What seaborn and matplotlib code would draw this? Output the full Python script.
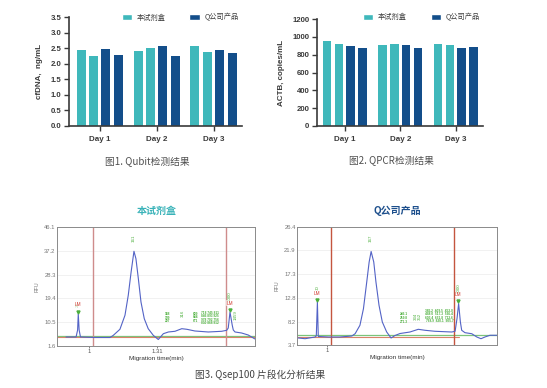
import numpy as np
import pandas as pd
import matplotlib
matplotlib.use("Agg")
import matplotlib.pyplot as plt
from matplotlib.patches import Patch
import seaborn as sns

# -----------------------------
# Step 1 – Chart values
# -----------------------------
days = ["Day 1", "Day 2", "Day 3"]
groups = ["本试剂盒", "Q公司产品"]
reps = ["本试剂盒-1", "本试剂盒-2", "Q公司产品-1", "Q公司产品-2"]

# Qubit cfDNA (ng/mL), two replicates per day
qubit_kit = [[2.43, 2.25], [2.42, 2.52], [2.56, 2.37]]
qubit_q = [[2.46, 2.27], [2.58, 2.25], [2.43, 2.33]]

# QPCR ACTB (copies/mL)
qpcr_kit = [[950, 925], [905, 925], [925, 905]]
qpcr_q = [[895, 870], [910, 870], [880, 890]]

# Qsep100 traces: migration time (min) and RFU
kit_time = [0.895, 0.941, 0.948, 0.951, 0.955, 0.961, 1.027, 1.096, 1.111, 1.141,
            1.164, 1.179, 1.192, 1.205, 1.214, 1.225, 1.237, 1.252, 1.270, 1.293,
            1.316, 1.339, 1.362, 1.392, 1.423, 1.446, 1.483, 1.544, 1.605, 1.628,
            1.635, 1.643, 1.653, 1.658, 1.666, 1.696, 1.726, 1.757]
kit_rfu = [4.97, 4.97, 7.58, 13.6, 7.58, 4.97, 4.78, 4.78, 5.60, 7.85,
           13.08, 20.56, 29.28, 37.02, 34.25, 26.77, 18.06, 11.81, 8.07, 5.60,
           4.03, 6.20, 6.84, 7.10, 8.07, 7.85, 7.21, 6.84, 7.10, 7.47,
           8.33, 14.3, 9.45, 7.58, 6.84, 6.46, 5.71, 4.22]

q_time = [0.869, 0.900, 0.945, 0.951, 0.956, 0.960, 1.006, 1.059, 1.113, 1.128,
          1.150, 1.166, 1.181, 1.192, 1.201, 1.213, 1.223, 1.237, 1.252, 1.272,
          1.292, 1.310, 1.333, 1.378, 1.416, 1.447, 1.492, 1.569, 1.584, 1.593,
          1.600, 1.608, 1.614, 1.629, 1.660, 1.683, 1.702, 1.720, 1.743, 1.774]
q_rfu = [5.05, 4.91, 5.24, 5.43, 11.97, 5.34, 5.24, 5.24, 5.43, 5.87,
         7.49, 10.68, 15.82, 19.67, 21.69, 19.67, 15.82, 11.34, 8.13, 6.20,
         5.05, 5.53, 5.91, 6.20, 6.72, 6.53, 6.34, 6.20, 6.34, 8.89,
         11.68, 8.13, 6.53, 6.07, 5.87, 5.24, 4.91, 5.24, 5.57, 5.57]

# rotated peak labels: (text, time, rfu)
kit_peaks = [("20", 0.951, 17.2), ("161", 1.205, 41.8), ("316", 1.429, 13.9),
             ("1000", 1.643, 20.2), ("1459", 1.670, 13.2)]
q_peaks = [("20", 0.956, 14.7), ("167", 1.201, 24.3), ("334\n352", 1.414, 9.2),
           ("1000", 1.599, 14.6)]
# dense label blocks (several stacked rows): (rows, time, rfu)
kit_blocks = [(["188", "199", "207"], 1.360, 12.1),
              (["609", "644", "671"], 1.485, 12.4),
              (["718 745 811", "846 893 925", "978 702 756", "830 868 912"], 1.552, 12.1)]
q_blocks = [(["246.1", "259.8", "271.3"], 1.351, 8.9),
            (["386.2  409.5  452.0", "488.0  517.3  566.4",
              "603.4  651.8  712.6", "768.9  830.1  905.7"], 1.512, 9.3)]
kit_markers = [0.951, 1.643]
q_markers = [0.956, 1.599]

# -----------------------------
# Step 2 – Style
# -----------------------------
sns.set_style("ticks")
plt.rcParams['font.family'] = ['Liberation Sans', 'Noto Sans CJK SC', 'DejaVu Sans']
cjk = ['Noto Sans CJK SC', 'DejaVu Sans']
teal = "#3fb8bb"
navy = "#134e8a"
ink = "#3a3a3a"
green = "#4caf3c"
W, H = 547, 388


def box(x0, y0, x1, y1):
    # pixel box (top-left origin) -> figure fraction
    return [x0 / W, 1 - y1 / H, (x1 - x0) / W, (y1 - y0) / H]


def to_long(kit, q):
    rows = []
    for i, d in enumerate(days):
        for j in range(2):
            rows.append((d, reps[j], kit[i][j]))
        for j in range(2):
            rows.append((d, reps[2 + j], q[i][j]))
    return pd.DataFrame(rows, columns=["day", "rep", "value"])


fig = plt.figure(figsize=(W / 100, H / 100), dpi=100)
fig.patch.set_facecolor("white")


# -----------------------------
# Step 3 – Bar charts
# -----------------------------
def bar_panel(pos, df, ylim, yticks, fmt, ylabel, xlim, width, gap, lab_x, leg_x, leg_y):
    ax = fig.add_axes(pos)
    sns.barplot(data=df, x="day", y="value", hue="rep", hue_order=reps,
                palette=[teal, teal, navy, navy], width=width, gap=gap,
                saturation=1, errorbar=None, legend=False, linewidth=0, ax=ax)
    ax.set_xlim(*xlim)
    ax.set_ylim(*ylim)
    ax.set_yticks(yticks)
    ax.set_yticklabels([fmt.format(v) for v in yticks])
    sns.despine(ax=ax)
    for s in ["left", "bottom"]:
        ax.spines[s].set_linewidth(1.2)
        ax.spines[s].set_color(ink)
    ax.tick_params(axis="both", colors=ink, width=1.0, length=3.5, labelsize=5.6, pad=2)
    ax.tick_params(axis="x", pad=3.5, labelsize=5.8)
    for t in ax.get_xticklabels() + ax.get_yticklabels():
        t.set_fontweight("bold")
    ax.set_xlabel("")
    ax.set_ylabel(ylabel, fontsize=5.8, fontweight="bold", color=ink)
    ax.yaxis.set_label_coords(lab_x, 0.5)
    handles = [Patch(facecolor=teal), Patch(facecolor=navy)]
    ax.legend(handles, groups, ncol=2, loc="center left", bbox_to_anchor=(leg_x, leg_y),
              frameon=False, handlelength=1.45, handleheight=0.95,
              handletextpad=0.6, columnspacing=3.3, borderpad=0, borderaxespad=0,
              prop={'family': cjk, 'size': 5.2}, labelcolor=ink)
    return ax


bar_panel(box(69, 17, 242, 126), to_long(qubit_kit, qubit_q), (0, 3.5),
          np.arange(0, 3.51, 0.5), "{:.1f}", "cfDNA,  ng/mL", (-0.54, 2.50),
          0.87, 0.27, -0.15, 0.305, 0.995)
bar_panel(box(317, 19, 483, 126), to_long(qpcr_kit, qpcr_q), (0, 1200),
          np.arange(0, 1201, 200), "{:.0f}", "ACTB, copies/mL", (-0.50, 2.49),
          0.85, 0.28, -0.19, 0.277, 1.016)

fig.text(147.5 / W, 1 - 161 / H, "图1. Qubit检测结果", ha="center", va="center",
         fontsize=7, color="#505050", family=cjk)
fig.text(391.7 / W, 1 - 160 / H, "图2. QPCR检测结果", ha="center", va="center",
         fontsize=7, color="#505050", family=cjk)


# -----------------------------
# Step 4 – Qsep100 traces
# -----------------------------
def trace_panel(pos, t, rfu, xlim, ylim, yticks, xticks, xticklabels, cuts, cut_color,
                peaks, blocks, markers, base_g, base_r, red_end):
    ax = fig.add_axes(pos)
    for y in yticks[1:-1]:
        ax.axhline(y, color="#ececec", lw=0.5, zorder=0)
    ax.axhline(base_g, color="#7cc47a", lw=0.9, zorder=1)
    ax.plot([xlim[0], red_end], [base_r, base_r], color="#d9826a", lw=0.8, zorder=1)
    for c in cuts:
        ax.axvline(c, color=cut_color, lw=1.0, zorder=2)
    sns.lineplot(x=t, y=rfu, ax=ax, color="#5363c6", linewidth=0.8, zorder=3)
    for txt, x, y in peaks:
        ax.text(x, y, txt, rotation=90, ha="center", va="center", fontsize=3.2,
                color=green, linespacing=0.9, zorder=4)
    for rows, x, y in blocks:
        ax.text(x, y, "\n".join(rows), ha="center", va="center", fontsize=2.3,
                linespacing=0.85, color=green, fontweight="bold", zorder=4)
    span = ylim[1] - ylim[0]
    for x in markers:
        i = int(np.argmin([abs(v - x) for v in t]))
        peak_y = rfu[i]
        ax.text(x, peak_y + span * 0.075, "LM", ha="center", va="center",
                fontsize=3.4, color="#d03a30", zorder=5,
                bbox=dict(boxstyle="square,pad=0.05", fc="white", ec="none", alpha=0.6))
        ax.plot(x, peak_y + span * 0.02, marker="v", ms=2.2, color=green, zorder=5)
    ax.set_xlim(*xlim)
    ax.set_ylim(*ylim)
    ax.set_yticks(yticks)
    ax.set_yticklabels([f"{v:.1f}" for v in yticks])
    ax.set_xticks(xticks)
    ax.set_xticklabels(xticklabels)
    ax.tick_params(axis="y", length=0, labelsize=4.2, colors="#777777", pad=1)
    ax.tick_params(axis="x", length=1.5, width=0.5, labelsize=4.2, colors="#555555", pad=0.8)
    for s in ax.spines.values():
        s.set_color("#8a8a8a")
        s.set_linewidth(0.7)
    ax.set_xlabel("Migration time(min)", fontsize=4.6, color="#333333", labelpad=1.5)
    ax.set_ylabel("RFU", fontsize=3.8, color="#777777", labelpad=3)
    return ax


trace_panel(box(57, 227, 255, 346), kit_time, kit_rfu, (0.854, 1.757), (1.6, 46.1),
            [1.6, 10.5, 19.4, 28.3, 37.2, 46.1], [1, 1.31], ["1", "1.31"],
            [1.017, 1.625], "#cf8c8c", kit_peaks, kit_blocks, kit_markers, 5.34, 4.97, 1.757)
trace_panel(box(297, 227, 497, 345), q_time, q_rfu, (0.863, 1.775), (3.7, 26.4),
            [3.7, 8.2, 12.8, 17.3, 21.9, 26.4], [1], ["1"],
            [1.017, 1.581], "#c4553f", q_peaks, q_blocks, q_markers, 5.57, 5.18, 1.60)

fig.text(156.7 / W, 1 - 210.7 / H, "本试剂盒", ha="center", va="center",
         fontsize=7.2, fontweight="bold", color="#38b2b8", family=cjk)
fig.text(397 / W, 1 - 210.7 / H, "Q公司产品", ha="center", va="center",
         fontsize=7.2, fontweight="bold", color="#1d4f8c", family=cjk)
fig.text(259.7 / W, 1 - 375 / H, "图3. Qsep100 片段化分析结果", ha="center", va="center",
         fontsize=7, color="#444444", family=cjk)

# -----------------------------
# Step 5 – Save
# -----------------------------
fig.savefig("out.png", dpi=100)
print("saved out.png")
